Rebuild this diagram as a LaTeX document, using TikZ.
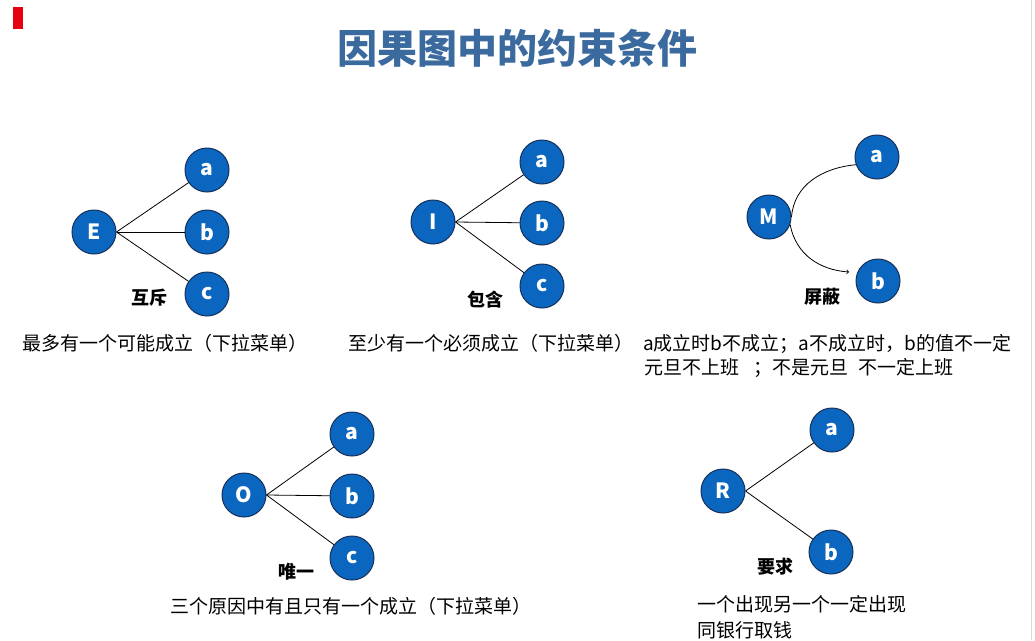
\documentclass[tikz,border=0pt]{standalone}
\usepackage{fontspec}
\setmainfont{Noto Sans CJK SC}
\definecolor{titleblue}{HTML}{3A6A9E}
\definecolor{ballblue}{HTML}{0A66BE}
\definecolor{ballrim}{HTML}{17305A}
\definecolor{markred}{HTML}{E60012}
\begin{document}
\begin{tikzpicture}[x=1pt,y=-1pt,
    ball/.style={circle,draw=ballrim,line width=1pt,fill=ballblue,minimum size=44pt,inner sep=0pt,
        text=white,font=\bfseries\fontsize{21}{21}\selectfont},
    tag/.style={font=\bfseries\fontsize{18}{18}\selectfont},
    note/.style={anchor=west,inner sep=0pt,font=\fontsize{19}{19}\selectfont},
    link/.style={draw=black,line width=.8pt}]
    \useasboundingbox (0,0) rectangle (1035,640);
    \fill[markred] (13,7) rectangle (23,29);
    \draw[black!15,line width=1pt] (1031,0) -- (1031,640);
    \node[text=titleblue,font=\bfseries\fontsize{40}{40}\selectfont] (title) at (517,48) {因果图中的约束条件};

    % E
    \node[ball] (E) at (94,232) {E};
    \foreach \n/\y in {a/170,b/232,c/294}
        \node[ball] (E\n) at (207,\y) {\n};
    \foreach \n in {a,b,c}
        \draw[link] (E.east) -- (E\n);
    \node[tag] (Etag) at (149,298) {互斥};
    \node[note] (Enote) at (22,343) {最多有一个可能成立（下拉菜单）};

    % I
    \node[ball] (I) at (433,222) {I};
    \foreach \n/\y in {a/162,b/223,c/286}
        \node[ball] (I\n) at (542,\y) {\n};
    \foreach \n in {a,b,c}
        \draw[link] (I.east) -- (I\n);
    \node[tag] (Itag) at (485,300) {包含};
    \node[note] (Inote) at (348,343) {至少有一个必须成立（下拉菜单）};

    % M
    \node[ball] (M) at (769,217) {M};
    \node[ball] (Ma) at (877,157) {a};
    \node[ball] (Mb) at (878,281) {b};
    \coordinate (Mtip) at (849,272);
    \draw[link] (M.east) .. controls (794,185) and (822,168) .. (Ma.200);
    \draw[link,-to] (M.-20) .. controls (796,255) and (820,270) .. (Mtip);
    \node[tag] (Mtag) at (822,297) {屏蔽};
    \node[note] (Mnote) at (643,344) {a成立时b不成立；a不成立时，b的值不一定};
    \node[note] (Mnote2) at (644,368) {元旦不上班\hspace{14pt}；不是元旦\hspace{10pt}不一定上班};

    % O
    \node[ball] (O) at (244,495) {O};
    \foreach \n/\y in {a/434,b/496,c/558}
        \node[ball] (O\n) at (352,\y) {\n};
    \foreach \n in {a,b,c}
        \draw[link] (O.east) -- (O\n);
    \node[tag] (Otag) at (296,572) {唯一};
    \node[note] (Onote) at (170,606) {三个原因中有且只有一个成立（下拉菜单）};

    % R
    \node[ball] (R) at (723,491) {R};
    \node[ball] (Ra) at (832,430) {a};
    \node[ball] (Rb) at (831,552) {b};
    \draw[link] (R.east) -- (Ra);
    \draw[link] (R.east) -- (Rb);
    \node[tag] (Rtag) at (775,567) {要求};
    \node[note] (Rnote) at (697,604) {一个出现另一个一定出现};
    \node[note] (Rnote2) at (697,630) {同银行取钱};
\end{tikzpicture}
\end{document}
